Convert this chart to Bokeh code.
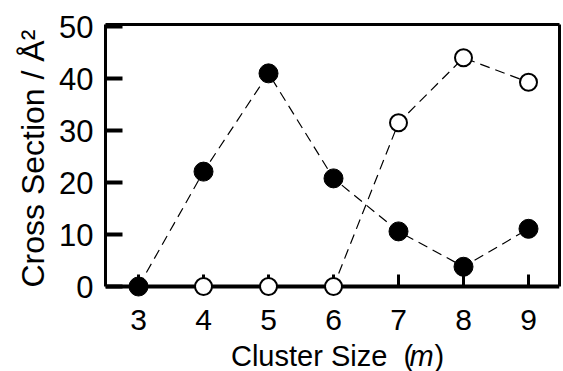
import math
from bokeh.plotting import figure
from bokeh.models import FixedTicker, Range1d, Label, ColumnDataSource, LinearAxis
from bokeh.embed import file_html
from bokeh.resources import INLINE

# data
cluster_size = [3, 4, 5, 6, 7, 8, 9]
filled_values = [0.0, 22.1, 41.0, 20.8, 10.6, 3.8, 11.1]
open_sizes = [4, 5, 6, 7, 8, 9]
open_values = [0.0, 0.0, 0.0, 31.5, 44.0, 39.3]
x_ticks = [3, 4, 5, 6, 7, 8, 9]
y_ticks = [0, 10, 20, 30, 40, 50]

FONT = "Liberation Sans"
X_LO, X_HI = 2.492, 9.477
Y_TOP = 50.4

# the frame reaches down to the canvas bottom so the x label is drawn inside it;
# the x axis is pinned at y = 0
p = figure(width=563, height=371, output_backend="svg", toolbar_location=None,
           x_range=Range1d(X_LO, X_HI), y_range=Range1d(-16.35, Y_TOP),
           min_border_left=105, min_border_right=4, min_border_top=24,
           min_border_bottom=0)
p.background_fill_color = "white"
p.border_fill_color = "white"
p.outline_line_color = None
p.xgrid.visible = False
p.ygrid.visible = False

# bottom axis at y = 0
xa = p.xaxis[0]
xa.fixed_location = 0
xa.ticker = FixedTicker(ticks=x_ticks)
xa.axis_line_width = 4
xa.major_tick_in = 12
xa.major_tick_out = 0
xa.major_tick_line_width = 3
xa.minor_tick_line_color = None
xa.major_label_text_font = FONT
xa.major_label_text_font_size = "30px"
xa.major_label_text_color = "black"
xa.major_label_standoff = 23

# left axis
ya = p.yaxis[0]
ya.bounds = (0, Y_TOP)
ya.ticker = FixedTicker(ticks=y_ticks)
ya.axis_line_width = 3
ya.major_tick_in = 17
ya.major_tick_out = 0
ya.major_tick_line_width = 4
ya.minor_tick_line_color = None
ya.major_label_text_font = FONT
ya.major_label_text_font_size = "31px"
ya.major_label_text_color = "black"
ya.major_label_standoff = 12

# top and right border lines of the box
top_axis = LinearAxis(ticker=FixedTicker(ticks=[]), axis_line_width=3,
                      major_tick_line_color=None, minor_tick_line_color=None,
                      major_label_text_color=None)
right_axis = LinearAxis(ticker=FixedTicker(ticks=[]), axis_line_width=3, bounds=(0, Y_TOP),
                        major_tick_line_color=None, minor_tick_line_color=None,
                        major_label_text_color=None)
p.add_layout(top_axis, "above")
p.add_layout(right_axis, "right")

filled_src = ColumnDataSource(dict(x=cluster_size, y=filled_values))
open_src = ColumnDataSource(dict(x=open_sizes, y=open_values))

p.line("x", "y", source=filled_src, line_color="black", line_width=1.2, line_dash="10 6")
p.line("x", "y", source=open_src, line_color="black", line_width=1.2, line_dash="10 6")
p.scatter("x", "y", source=open_src, size=17, fill_color="white", line_color="black",
          line_width=2, level="overlay")
p.scatter("x", "y", source=filled_src, size=19, fill_color="black", line_color="black",
          line_width=1, level="overlay")

# y axis label, centred on the 0..50 box
p.add_layout(Label(x=1.369, y=Y_TOP / 2 - 0.6, text="Cross Section / Å²", angle=math.pi / 2,
                   text_align="center", text_baseline="middle",
                   text_font=FONT, text_font_size="32px", text_color="black"), "left")

# x axis label with italic m
m_center = 7.354
label_y = -13.46
p.add_layout(Label(x=m_center - 0.13, y=label_y, text="Cluster Size\u00a0\u00a0(",
                   text_align="right", text_baseline="middle",
                   text_font=FONT, text_font_size="29px", text_color="black"))
p.add_layout(Label(x=m_center, y=label_y, text="m", text_align="center",
                   text_baseline="middle", text_font=FONT, text_font_size="29px",
                   text_font_style="italic", text_color="black"))
p.add_layout(Label(x=m_center + 0.2, y=label_y, text=")", text_align="left",
                   text_baseline="middle", text_font=FONT, text_font_size="29px",
                   text_color="black"))

open("out.html", "w").write(file_html(p, INLINE))
